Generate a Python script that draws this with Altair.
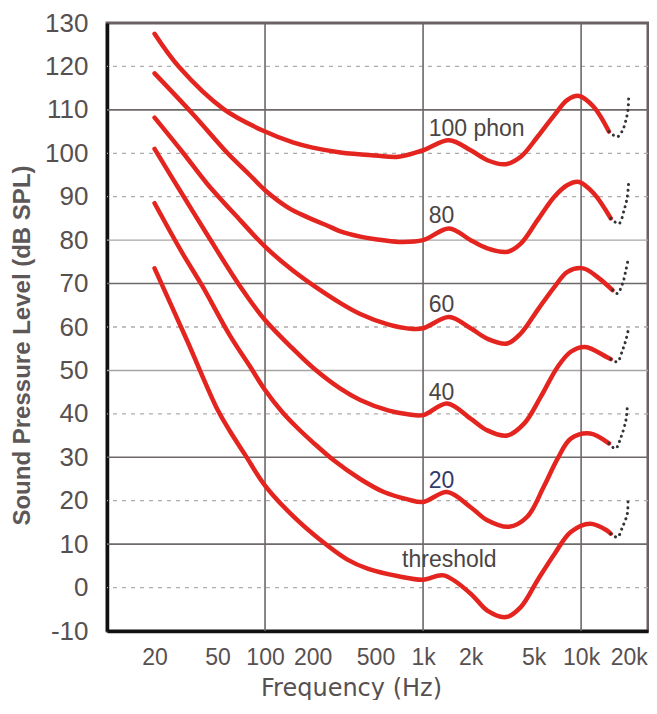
import altair as alt
import pandas as pd

# ---------------- data ----------------
# solid parts of the curves (frequency in Hz, level in dB SPL)
thr_f = [20, 32, 50, 60, 75, 100, 150, 225, 330, 450, 700, 1000, 1350, 2000, 2550, 3340, 4150, 5300, 6800, 8600, 11400, 14500, 15400]
thr_db = [73.5, 57, 41, 36, 30.5, 23.5, 16.5, 10.9, 6.5, 4.3, 2.6, 1.8, 2.8, -1.4, -5.3, -6.8, -4.5, 1.7, 7.8, 12.8, 14.7, 13.2, 12.4]

p20_f = [20, 30, 40, 60, 80, 100, 128, 160, 200, 272, 400, 565, 800, 1000, 1420, 2000, 2550, 3500, 4560, 5800, 7100, 8600, 11400, 15000]
p20_db = [88.5, 77, 69.5, 58, 51, 45.5, 40.5, 36.8, 33.5, 29.3, 25, 22, 20.3, 19.7, 22, 18.5, 15.5, 14, 16.3, 23.2, 29.7, 34.3, 35.5, 33.2]

p40_f = [20, 30, 43, 70, 100, 150, 203, 300, 400, 600, 800, 1000, 1420, 2000, 2550, 3400, 4370, 5550, 7100, 8600, 10600, 14500, 15400]
p40_db = [101, 90.5, 81.3, 69.2, 61.6, 55, 50.5, 45.8, 43.2, 40.8, 39.9, 39.7, 42.4, 38.9, 36.2, 35, 37.8, 43.9, 50.8, 54.3, 55.4, 53.1, 52.6]

p60_f = [20, 30, 43, 70, 100, 150, 213, 300, 400, 600, 830, 1000, 1460, 2000, 2550, 3400, 4150, 5300, 6770, 8200, 10300, 12700, 15800]
p60_db = [108.2, 100.3, 93, 84.5, 78.5, 73, 69, 65.5, 63, 60.6, 59.6, 59.7, 62.3, 59.7, 57.3, 56.2, 58.5, 63.9, 69.2, 72.7, 73.5, 71.5, 68.5]

p80_f = [20, 35, 58, 80, 100, 140, 185, 260, 300, 400, 500, 700, 1000, 1460, 2000, 2550, 3400, 4150, 5300, 6770, 8200, 9700, 12000, 15400]
p80_db = [118.4, 109, 100, 95, 91.5, 87.5, 85.3, 83, 82, 80.8, 80.2, 79.6, 80, 82.7, 80, 78.1, 77.3, 79.2, 84.6, 90, 92.7, 93.4, 90.8, 85]

p100_f = [20, 28.5, 55, 100, 150, 200, 300, 500, 700, 1000, 1460, 2000, 2550, 3340, 4150, 5300, 6770, 8200, 9700, 12000, 15000]
p100_db = [127.5, 119.9, 110.1, 105, 102.5, 101.3, 100.2, 99.5, 99.2, 100.7, 103, 100.7, 98.4, 97.5, 99.2, 103.8, 108.8, 112.3, 113.2, 110.7, 105]

# dotted extensions towards 20 kHz
thr_dot_f = [15400, 16950, 18300, 19600, 19800]
thr_dot_db = [12.4, 11.6, 14, 17, 20.5]
p20_dot_f = [15000, 16500, 17900, 19200, 19600]
p20_dot_db = [33.2, 32, 34.7, 38.5, 41.6]
p40_dot_f = [15400, 16950, 18300, 19200, 20000]
p40_dot_db = [52.6, 52, 54.7, 57, 59.7]
p60_dot_f = [15800, 16950, 18300, 19200, 19800]
p60_dot_db = [68.5, 67.7, 70, 73.1, 75.4]
p80_dot_f = [15400, 17350, 18700, 19600, 20000]
p80_dot_db = [85, 83.8, 86.9, 90, 93.4]
p100_dot_f = [15000, 16950, 18300, 19200, 19800, 20000]
p100_dot_db = [105, 103.8, 105.3, 107.6, 110, 113.4]

# curve labels
label_text = ["100 phon", "80", "60", "40", "20", "threshold"]
label_freq = [1085, 1085, 1085, 1085, 1085, 736]
label_db = [104, 83.9, 63.4, 43.1, 22.9, 4.7]

# axis ticks
y_ticks = list(range(-10, 131, 10))
x_tick_values = [20, 50, 100, 200, 500, 1000, 2000, 5000, 10000, 20000]
x_tick_labels = ["20", "50", "100", "200", "500", "1k", "2k", "5k", "10k", "20k"]

# grid lines
grid_dark = [110, 70, 30, 10]
grid_light = [80, 50]
grid_dotted = [120, 100, 90, 60, 40, 20, 0]
grid_vertical = [100, 1000, 10000]

# ---------------- tables ----------------
solid = [("threshold", thr_f, thr_db), ("20", p20_f, p20_db), ("40", p40_f, p40_db),
         ("60", p60_f, p60_db), ("80", p80_f, p80_db), ("100", p100_f, p100_db)]
dotted = [("threshold", thr_dot_f, thr_dot_db), ("20", p20_dot_f, p20_dot_db), ("40", p40_dot_f, p40_dot_db),
          ("60", p60_dot_f, p60_dot_db), ("80", p80_dot_f, p80_dot_db), ("100", p100_dot_f, p100_dot_db)]


def long(parts):
    rows = []
    for name, fs, ds in parts:
        for i, (f, d) in enumerate(zip(fs, ds)):
            rows.append({"curve": name, "freq": f, "db": d, "i": i})
    return pd.DataFrame(rows)


solid_df = long(solid)
dotted_df = long(dotted)
labels_df = pd.DataFrame({"label": label_text, "freq": label_freq, "db": label_db})

x_scale = alt.Scale(type="log", domain=[10, 26500], nice=False)
y_scale = alt.Scale(domain=[-10, 130], nice=False)

label_expr = ""
for v, t in zip(x_tick_values, x_tick_labels):
    label_expr += f"datum.value == {v} ? '{t}' : "
label_expr += "''"

grey_text = "#575050"

x_axis = alt.Axis(values=x_tick_values, labelExpr=label_expr, title="Frequency (Hz)",
                  grid=False, ticks=False, domain=True, domainColor="#111111", domainWidth=3.5,
                  labelFontSize=23, labelColor=grey_text, labelPadding=15, labelOverlap=False,
                  labelFlush=False, labelBound=False,
                  titleFont="DejaVu Sans", titleFontSize=24, titleFontWeight="normal", titleColor=grey_text,
                  titleX=244, titleY=64, titleAlign="center", titleBaseline="alphabetic")
y_axis = alt.Axis(values=y_ticks, title="Sound Pressure Level (dB SPL)",
                  labelExpr="datum.value < 0 ? '-' + abs(datum.value) : '' + datum.value",
                  grid=False, ticks=False, domain=True, domainColor="#111111", domainWidth=3.5,
                  labelFontSize=26, labelColor=grey_text, labelPadding=19,
                  titleFontSize=24, titleFontWeight="bold", titleColor="#5e5757",
                  titleX=-85, titleY=322, titleAngle=270, titleAlign="center", titleBaseline="middle")


def X(field):
    return alt.X(field, scale=x_scale, axis=x_axis)


def Y(field):
    return alt.Y(field, scale=y_scale, axis=y_axis)


base_lines = alt.Chart(solid_df).mark_line(
    color="#e4241f", strokeWidth=4.5, interpolate="catmull-rom", strokeCap="round"
).encode(x=X("freq:Q"), y=Y("db:Q"), detail="curve:N", order="i:Q")

dot_lines = alt.Chart(dotted_df).mark_line(
    color="#333333", strokeWidth=3, strokeDash=[0.1, 5.5], strokeCap="round", interpolate="catmull-rom"
).encode(x=X("freq:Q"), y=Y("db:Q"), detail="curve:N", order="i:Q")

g_dark = alt.Chart(pd.DataFrame({"v": grid_dark})).mark_rule(color="#6e6868", strokeWidth=1.6).encode(
    y=Y("v:Q"))
g_light = alt.Chart(pd.DataFrame({"v": grid_light})).mark_rule(color="#a9a4a4", strokeWidth=1.4).encode(
    y=Y("v:Q"))
g_dot = alt.Chart(pd.DataFrame({"v": grid_dotted})).mark_rule(color="#b0abab", strokeWidth=1.3,
                                                              strokeDash=[4, 5]).encode(y=Y("v:Q"))
g_vert = alt.Chart(pd.DataFrame({"v": grid_vertical})).mark_rule(color="#6e6868", strokeWidth=1.6).encode(
    x=X("v:Q"))

texts = alt.Chart(labels_df).mark_text(
    align="left", baseline="alphabetic", fontSize=23, font="Liberation Sans"
).encode(
    x=X("freq:Q"),
    y=Y("db:Q"),
    text="label:N",
    color=alt.condition("datum.label == '20'", alt.value("#34396b"), alt.value("#4b4545")),
)

chart = alt.layer(g_light, g_dot, g_dark, g_vert, base_lines, dot_lines, texts).properties(
    width=541, height=608,
    padding={"left": 99, "top": 15, "right": 1, "bottom": 69},
    autosize=alt.AutoSizeParams(type="none"),
    background="white",
).configure_view(
    stroke="#6a6262", strokeWidth=3
).configure_axis(
    labelFont="Liberation Sans", titleFont="Liberation Sans"
)

chart.save("out.html", embed_options={"renderer": "svg", "actions": False})
